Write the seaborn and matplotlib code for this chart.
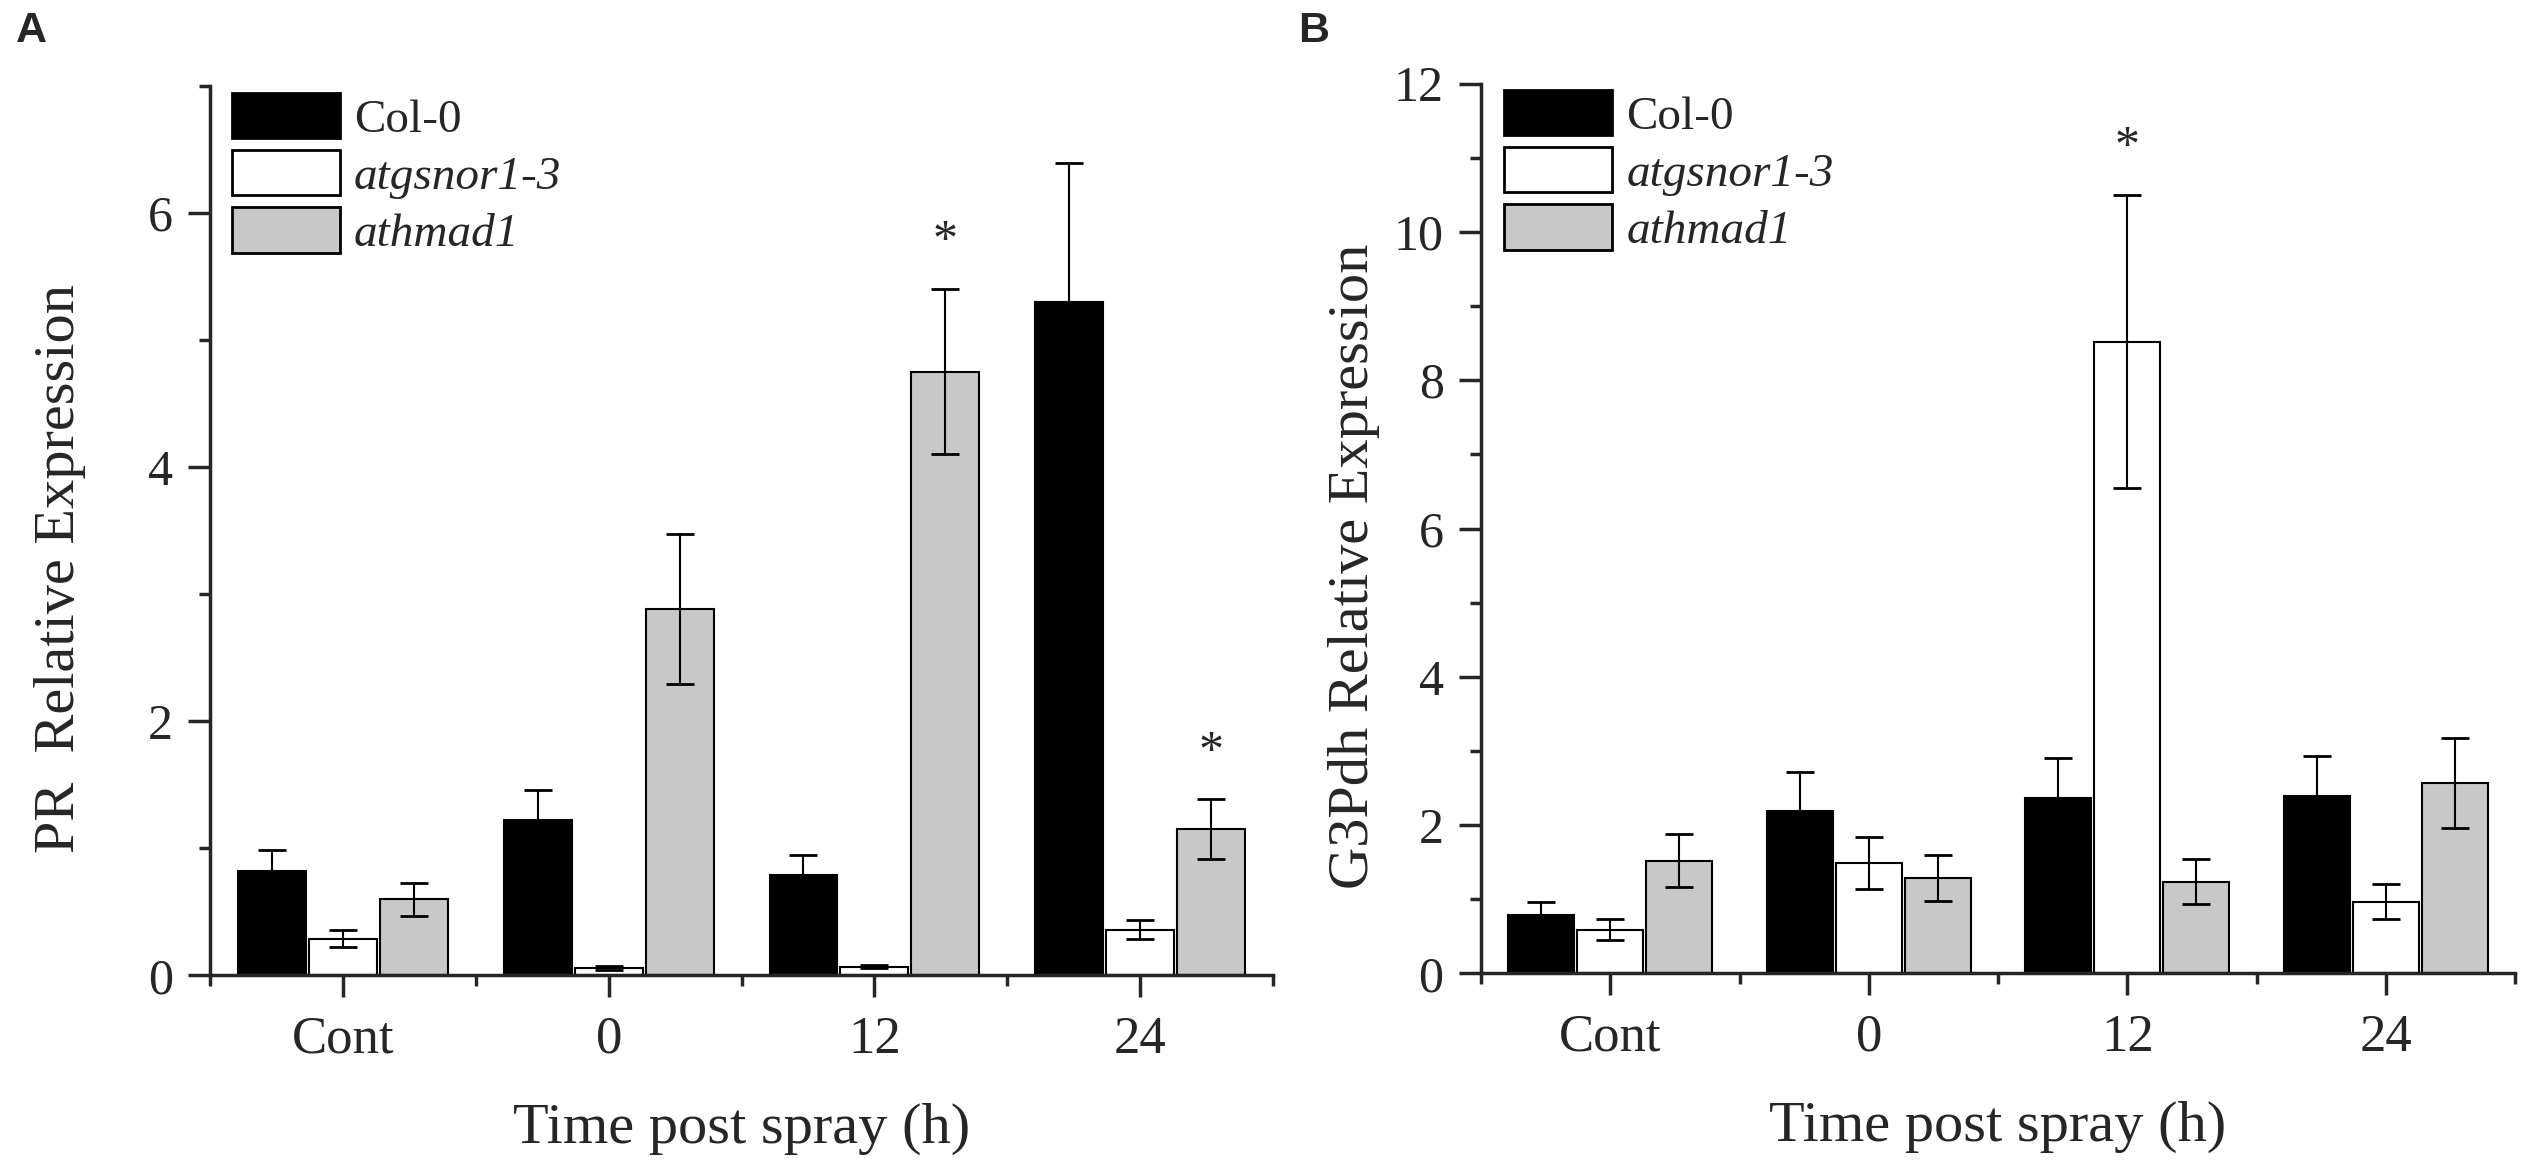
import matplotlib
matplotlib.use("Agg")
import matplotlib.pyplot as plt
import seaborn as sns
import pandas as pd
from matplotlib.ticker import FixedLocator, MultipleLocator

sns.set_style("ticks")
plt.rcParams["font.family"] = ["Liberation Serif", "DejaVu Serif"]

times = ["Cont", "0", "12", "24"]
genotypes = ["Col-0", "atgsnor1-3", "athmad1"]
colors = {"Col-0": "#000000", "atgsnor1-3": "#ffffff", "athmad1": "#c8c8c8"}

# panel A: PR
pr_col0 = [0.82, 1.22, 0.79, 5.30]
pr_col0_err = [0.17, 0.24, 0.16, 1.09]
pr_gsnor = [0.29, 0.06, 0.07, 0.36]
pr_gsnor_err = [0.065, 0.015, 0.015, 0.075]
pr_hmad = [0.60, 2.88, 4.75, 1.15]
pr_hmad_err = [0.13, 0.59, 0.65, 0.235]
pr_stars = [("12", "athmad1"), ("24", "athmad1")]

# panel B: G3Pdh
g3_col0 = [0.79, 2.19, 2.36, 2.39]
g3_col0_err = [0.18, 0.52, 0.54, 0.54]
g3_gsnor = [0.59, 1.49, 8.52, 0.97]
g3_gsnor_err = [0.145, 0.35, 1.98, 0.23]
g3_hmad = [1.52, 1.29, 1.24, 2.57]
g3_hmad_err = [0.36, 0.31, 0.30, 0.61]
g3_stars = [("12", "atgsnor1-3")]


def make_frame(col0, col0_err, gsnor, gsnor_err, hmad, hmad_err):
    rows = []
    for g, vals, errs in zip(genotypes, [col0, gsnor, hmad], [col0_err, gsnor_err, hmad_err]):
        for t, v, e in zip(times, vals, errs):
            rows.append({"time": t, "genotype": g, "value": v, "err": e})
    return pd.DataFrame(rows)


def plot_panel(ax, df, ylabel, ymax, ystep, stars, ylab_x, leg_xy):
    sns.barplot(data=df, x="time", y="value", hue="genotype", order=times, hue_order=genotypes,
                palette=colors, edgecolor="black", linewidth=1.5, width=0.8, gap=0.04,
                errorbar=None, saturation=1, ax=ax)

    # error bars and stars on top of the bars
    for g, cont in zip(genotypes, ax.containers):
        sub = df[df["genotype"] == g].set_index("time").loc[times]
        xs = [b.get_x() + b.get_width() / 2 for b in cont]
        ax.errorbar(xs, sub["value"], yerr=sub["err"], fmt="none", ecolor="black",
                    elinewidth=1.5, capsize=10, capthick=2, zorder=5)
        for t, x in zip(times, xs):
            if (t, g) in stars:
                top = sub.loc[t, "value"] + sub.loc[t, "err"]
                ax.annotate("*", (x, top), xytext=(0, 25), textcoords="offset points",
                            ha="center", va="baseline", fontsize=36)

    ax.set_xlim(-0.5, 3.5)
    ax.set_ylim(0, ymax)
    ax.yaxis.set_major_locator(MultipleLocator(ystep))
    ax.yaxis.set_minor_locator(MultipleLocator(ystep / 2))
    ax.xaxis.set_minor_locator(FixedLocator([-0.5, 0.5, 1.5, 2.5, 3.5]))
    sns.despine(ax=ax)
    for s in ["left", "bottom"]:
        ax.spines[s].set_linewidth(2.5)
    ax.tick_params(which="major", length=16, width=2.5, direction="out")
    ax.tick_params(which="minor", length=8, width=2.5, direction="out")
    ax.tick_params(axis="x", which="major", labelsize=38, pad=13)
    ax.tick_params(axis="y", which="major", labelsize=36, pad=11)

    ax.set_xlabel("Time post spray (h)", fontsize=42)
    ax.set_ylabel(ylabel, fontsize=42)
    ax.xaxis.set_label_coords(0.5, -0.143)
    ax.yaxis.set_label_coords(ylab_x, 0.457)

    handles, labels = ax.get_legend_handles_labels()
    leg = ax.legend(handles, labels, loc="upper left", bbox_to_anchor=leg_xy, frameon=False,
                    fontsize=34, borderpad=0, borderaxespad=0, handlelength=2.3, handleheight=1.1,
                    labelspacing=0.18, handletextpad=0.29)
    for txt in leg.get_texts():
        if txt.get_text() != "Col-0":
            txt.set_style("italic")
    for h in leg.legend_handles:
        h.set_linewidth(2)
        h.set_edgecolor("black")


fig = plt.figure(figsize=(25.33, 11.72), dpi=100)
ax_a = fig.add_axes([0.0831, 0.1677, 0.4193, 0.7592])
ax_b = fig.add_axes([0.5847, 0.1694, 0.4082, 0.7593])

df_pr = make_frame(pr_col0, pr_col0_err, pr_gsnor, pr_gsnor_err, pr_hmad, pr_hmad_err)
df_g3 = make_frame(g3_col0, g3_col0_err, g3_gsnor, g3_gsnor_err, g3_hmad, g3_hmad_err)

plot_panel(ax_a, df_pr, "PR  Relative Expression", 7, 2, pr_stars, -0.117, (0.02, 0.992))
plot_panel(ax_b, df_g3, "G3Pdh Relative Expression", 12, 2, g3_stars, -0.098, (0.022, 0.993))

fig.text(16 / 2533, 1 - 11 / 1172, "A", fontsize=31, fontweight="bold", family="Liberation Sans",
         ha="left", va="top")
fig.text(1298 / 2533, 1 - 11 / 1172, "B", fontsize=31, fontweight="bold", family="Liberation Sans",
         ha="left", va="top")

fig.savefig("out.png", dpi=100)
